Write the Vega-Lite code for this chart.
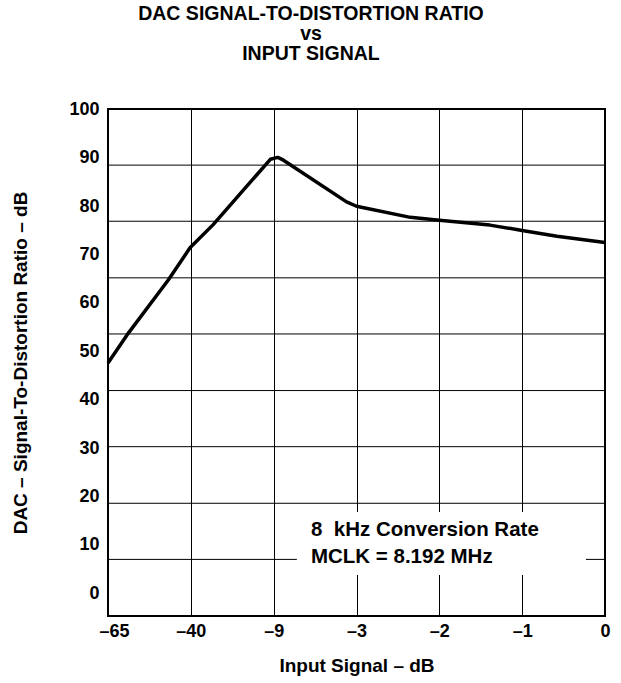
{
  "$schema": "https://vega.github.io/schema/vega-lite/v6.json",
  "width": 497,
  "height": 507,
  "autosize": {"type": "none"},
  "padding": {"left": 108, "top": 109, "right": 16, "bottom": 67},
  "background": "white",
  "config": {
    "font": "Liberation Sans",
    "view": {"stroke": "black", "strokeWidth": 2},
    "axis": {
      "labelFont": "Liberation Sans",
      "labelFontWeight": "bold",
      "labelFontSize": 18,
      "labelColor": "black",
      "titleFont": "Liberation Sans",
      "titleFontWeight": "bold",
      "titleFontSize": 19,
      "titleColor": "black",
      "domain": false,
      "ticks": false,
      "tickSize": 0
    }
  },
  "title": {
    "text": ["DAC SIGNAL-TO-DISTORTION RATIO", "vs", "INPUT SIGNAL"],
    "font": "Liberation Sans",
    "fontSize": 19.5,
    "fontWeight": "bold",
    "color": "black",
    "anchor": "middle",
    "frame": "bounds",
    "lineHeight": 20,
    "offset": 36
  },
  "datasets": {
    "curve": [
      {"pos": 0.0, "sdr": 47.6},
      {"pos": 0.23, "sdr": 53.4},
      {"pos": 0.73, "sdr": 64.8},
      {"pos": 0.99, "sdr": 71.4},
      {"pos": 1.27, "sdr": 76.2},
      {"pos": 1.96, "sdr": 89.7},
      {"pos": 2.05, "sdr": 90.1},
      {"pos": 2.1, "sdr": 89.7},
      {"pos": 2.88, "sdr": 80.9},
      {"pos": 3.0, "sdr": 80.0},
      {"pos": 3.65, "sdr": 77.7},
      {"pos": 4.0, "sdr": 77.1},
      {"pos": 4.61, "sdr": 76.1},
      {"pos": 5.0, "sdr": 75.0},
      {"pos": 5.42, "sdr": 73.8},
      {"pos": 6.0, "sdr": 72.5}
    ],
    "hgrid": [
      {"g": 88.5}, {"g": 76.9}, {"g": 65.2}, {"g": 53.6},
      {"g": 41.9}, {"g": 30.3}, {"g": 18.6}, {"g": 7.0}
    ],
    "box": [
      {"x1": 2.28, "x2": 5.77, "y1": 3.8, "y2": 16.8}
    ],
    "notes": [
      {"pos": 2.45, "sdr": 11.9, "label": "8\u00a0 kHz Conversion Rate"},
      {"pos": 2.45, "sdr": 6.3, "label": "MCLK = 8.192 MHz"}
    ]
  },
  "encoding": {
    "x": {
      "type": "quantitative",
      "scale": {"domain": [0, 6], "nice": false, "zero": false},
      "axis": {
        "title": "Input Signal – dB",
        "values": [0, 1, 2, 3, 4, 5, 6],
        "labelExpr": "['–65','–40','–9','–3','–2','–1','0'][datum.value]",
        "labelFlush": false,
        "labelOffset": {"condition": {"test": "datum.value === 0", "value": 6}, "value": 0},
        "grid": true,
        "gridColor": "black",
        "gridOpacity": 1,
        "gridWidth": 1,
        "labelPadding": 6,
        "titlePadding": 16
      }
    },
    "y": {
      "type": "quantitative",
      "scale": {"domain": [-4.7, 100.1], "nice": false, "zero": false},
      "axis": {
        "title": "DAC – Signal-To-Distortion Ratio – dB",
        "values": [0, 10, 20, 30, 40, 50, 60, 70, 80, 90, 100],
        "grid": false,
        "labelPadding": 9,
        "titlePadding": 38
      }
    }
  },
  "layer": [
    {
      "data": {"name": "hgrid"},
      "mark": {"type": "rule", "color": "black", "strokeWidth": 1},
      "encoding": {"y": {"field": "g", "type": "quantitative"}}
    },
    {
      "data": {"name": "box"},
      "mark": {"type": "rect", "fill": "white", "stroke": null},
      "encoding": {
        "x": {"field": "x1", "type": "quantitative"},
        "x2": {"field": "x2"},
        "y": {"field": "y1", "type": "quantitative"},
        "y2": {"field": "y2"}
      }
    },
    {
      "data": {"name": "curve"},
      "mark": {"type": "line", "color": "black", "strokeWidth": 3.5, "strokeJoin": "round"},
      "encoding": {
        "x": {"field": "pos", "type": "quantitative"},
        "y": {"field": "sdr", "type": "quantitative"}
      }
    },
    {
      "data": {"name": "notes"},
      "mark": {"type": "text", "align": "left", "baseline": "alphabetic", "font": "Liberation Sans", "fontWeight": "bold", "fontSize": 20.5, "color": "black"},
      "encoding": {
        "x": {"field": "pos", "type": "quantitative"},
        "y": {"field": "sdr", "type": "quantitative"},
        "text": {"field": "label"}
      }
    }
  ]
}
